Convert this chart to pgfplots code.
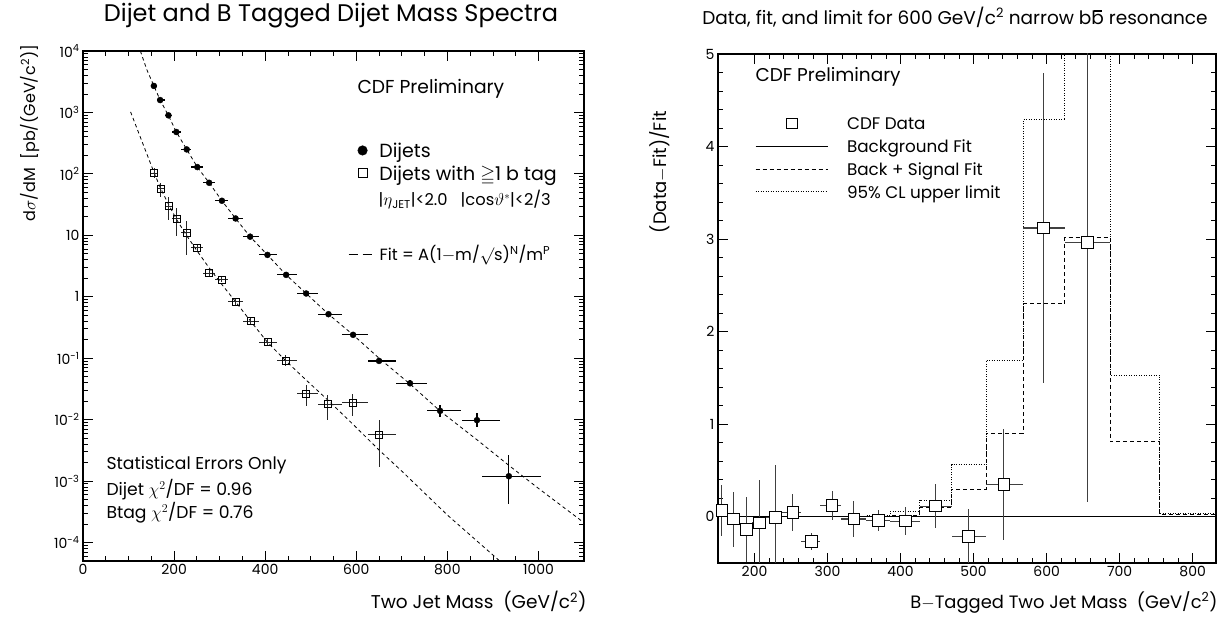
\documentclass[border=0pt]{standalone}
\usepackage{amsmath,amssymb}
\usepackage{fontspec}
\setmainfont{Poppins}
\usepackage{pgfplots}
\usepackage{pgfplotstable}
\pgfplotsset{compat=1.18}

% Dijets: x, x-error minus/plus, y, y-error minus/plus
\pgfplotstableread{
x xm xp y ym yp
155.6 5.6 6.4 2700 0 0
169.4 7.4 9.6 1590 0 0
187.6 8.6 8.4 897 0 0
205 9 11 480 0 0
227.7 11.7 10.3 250 0 0
251 13 13 129 0 0
277 13 13 71.6 0 0
305 15 14 36.5 0 0
335 16 17 18.8 0 0
367 15 19 9.5 0 0
405 19 21 4.8 0 0
446 20 24 2.27 0 0
490 20 27 1.13 0 0
539 22 29 0.52 0 0
593 25 32 0.24 0 0
650 25 37 0.0903 0.004 0.004
718 31 37 0.039 0.0039 0.0047
784 28 47 0.0139 0.0028 0.0035
865 33 50 0.0098 0.0022 0.0028
935 60 71 0.0012 0.00078 0.0015
}\dijet

% B-tagged dijets
\pgfplotstableread{
x xm xp y ym yp
156.7 6.7 5.3 102 17.4 21
170 8 9 58 16.6 13.8
188.4 9.4 7.6 29.9 12.2 11.5
206 10 10 18.8 9.2 8.6
227.7 11.7 10.3 11.1 6.4 6.3
251 13 13 6.35 0.9 1.0
277 13 13 2.4 0.25 0.29
305 15 14 1.91 0.2 0.23
335 16 17 0.83 0.09 0.1
368 16 18 0.40 0.04 0.05
405.5 19.5 20.5 0.182 0.019 0.022
445.5 19.5 24.5 0.092 0.016 0.019
490 20 27 0.0266 0.0101 0.0097
537 20 31 0.0178 0.008 0.0072
592 24 33 0.019 0.0076 0.0076
650 25 37 0.0057 0.004 0.004
}\btag

% Fit curves
\pgfplotstableread{
x y
126 10000
140 5000
155.6 2700
169.4 1590
187.6 890
205 480
227.7 250
251 129
277 71.6
305 36.5
335 18.8
367 9.5
405 4.8
446 2.27
490 1.13
539 0.52
593 0.24
650 0.1
718 0.038
784 0.0138
865 0.0047
935 0.0018
1000 0.00076
1100 0.00021
}\dijetfit

\pgfplotstableread{
x y
104.5 1020
130 330
156.7 102
170 59
188 31.6
206 17.8
228 9.8
251 5.5
277 2.95
305 1.58
335 0.83
368 0.40
405 0.182
445 0.091
490 0.044
537 0.021
592 0.0085
650 0.0032
700 0.00145
800 0.00028
915 0.00005
}\btagfit

% Right panel: (Data-Fit)/Fit
\pgfplotstableread{
x xm xp y ym yp
155.3 5.3 6.7 0.07 0.28 0.27
170.8 8.8 8.2 -0.025 0.30 0.29
188.6 8.6 7.4 -0.14 0.35 0.35
206.8 10.8 9.2 -0.068 0.47 0.47
228.8 12.8 9.2 -0.008 0.57 0.57
252.5 14.5 11.5 0.047 0.20 0.20
277.6 13.6 12.4 -0.267 0.09 0.09
306.3 16.3 12.7 0.122 0.16 0.155
335.9 16.9 16.1 -0.025 0.19 0.19
369.5 17.5 16.5 -0.04 0.11 0.11
407 21 19 -0.047 0.15 0.15
448 22 22 0.115 0.24 0.24
492.6 22.6 24.4 -0.216 0.30 0.30
541.5 24.5 26.5 0.346 0.60 0.605
596 28 29 3.12 1.67 1.68
655.7 30.7 31.3 2.965 2.81 2.81
}\ratio

\pgfplotsset{
  cdf/.style={
    scale only axis, anchor=south west,
    tick align=inside,
    major tick length=10pt, minor tick length=5pt,
    axis line style={line width=1.1pt},
    major tick style={black, line width=0.9pt},
    minor tick style={black, line width=0.8pt},
    tick label style={font=\fontsize{14}{16}\selectfont},
    /pgf/number format/assume math mode=true,
    /pgf/number format/1000 sep={},
    legend cell align=left,
  },
}

\begin{document}
\begin{tikzpicture}[x=1pt,y=1pt]
\path[use as bounding box] (0,0) rectangle (1228,617);

%================ LEFT PANEL =================
\begin{axis}[cdf,
  at={(83pt,56pt)}, width=501pt, height=510pt,
  xmin=0, xmax=1100,
  ymode=log, ymin=5e-5, ymax=1e4,
  xtick={0,200,...,1000}, minor x tick num=3,
  ytick={1e-4,1e-3,1e-2,1e-1,1,10,100,1000,1e4},
  yticklabels={10\textsuperscript{-4},10\textsuperscript{-3},10\textsuperscript{-2},10\textsuperscript{-1},1,10,10\textsuperscript{2},10\textsuperscript{3},10\textsuperscript{4}},
  minor ytick={6e-5,7e-5,8e-5,9e-5,
    2e-4,3e-4,4e-4,5e-4,6e-4,7e-4,8e-4,9e-4,
    2e-3,3e-3,4e-3,5e-3,6e-3,7e-3,8e-3,9e-3,
    2e-2,3e-2,4e-2,5e-2,6e-2,7e-2,8e-2,9e-2,
    2e-1,3e-1,4e-1,5e-1,6e-1,7e-1,8e-1,9e-1,
    2,3,4,5,6,7,8,9,20,30,40,50,60,70,80,90,
    200,300,400,500,600,700,800,900,2000,3000,4000,5000,6000,7000,8000,9000},
  legend image code/.code={\draw[mark repeat=2,mark phase=2,#1] plot coordinates {(0pt,0pt) (10pt,0pt) (20pt,0pt)};},
  legend style={at={(0.548,0.8265)}, anchor=north west, draw=none, fill=none,
    font=\fontsize{19}{23}\selectfont, row sep=1pt, inner sep=0pt,
    /tikz/every odd column/.append style={column sep=10pt}},
]
\addlegendimage{only marks, mark=*, mark size=4.8pt, black}
\addlegendentry{\strut Dijets}
\addlegendimage{only marks, mark=square, mark size=4.5pt, black, mark options={line width=0.8pt}}
\addlegendentry{\strut Dijets with $\geqq$1 b tag}

\addplot[black, line width=0.8pt, dash pattern=on 3.5pt off 3pt, forget plot] table[x=x,y=y] {\dijetfit};
\addplot[black, line width=0.8pt, dash pattern=on 3.5pt off 3pt, forget plot] table[x=x,y=y] {\btagfit};

\addplot[only marks, mark=*, mark size=3pt, black, forget plot,
  error bars/.cd, x dir=both, x explicit, y dir=both, y explicit,
  error mark=none, error bar style={line width=1.2pt, black}]
  table[x=x, y=y, x error minus=xm, x error plus=xp, y error minus=ym, y error plus=yp] {\dijet};

\addplot[only marks, mark=square, mark size=3.5pt, black, mark options={line width=0.8pt}, forget plot,
  error bars/.cd, x dir=both, x explicit, y dir=both, y explicit,
  error mark=none, error bar style={line width=1.1pt, black!85}]
  table[x=x, y=y, x error minus=xm, x error plus=xp, y error minus=ym, y error plus=yp] {\btag};
\end{axis}

%================ RIGHT PANEL =================
\begin{axis}[cdf,
  at={(718pt,54pt)}, width=498pt, height=509pt,
  xmin=150, xmax=832, ymin=-0.5, ymax=5,
  xtick={200,300,...,800}, minor x tick num=4,
  ytick={0,1,...,5}, minor y tick num=4,
  legend image code/.code={\draw[mark repeat=2,mark phase=2,#1] plot coordinates {(0pt,0pt) (36pt,0pt) (72pt,0pt)};},
  legend style={at={(0.074,0.883)}, anchor=north west, draw=none, fill=none,
    font=\fontsize{16.8}{20}\selectfont, row sep=3.3pt, inner sep=0pt,
    /tikz/every odd column/.append style={column sep=17pt}},
]
\addlegendimage{only marks, mark=square*, mark size=5.4pt, black, mark options={fill=white, line width=0.9pt}}
\addlegendentry{\strut CDF Data}
\addlegendimage{black, line width=1pt}
\addlegendentry{\strut Background Fit}
\addlegendimage{black, line width=0.9pt, dash pattern=on 4pt off 3pt}
\addlegendentry{\strut Back + Signal Fit}
\addlegendimage{black, line width=0.9pt, dash pattern=on 1pt off 1.5pt}
\addlegendentry{\strut 95\% CL upper limit}

\addplot[black, line width=1pt, forget plot] coordinates {(150,0) (832,0)};
\addplot[const plot, black, line width=0.9pt, dash pattern=on 1pt off 1.5pt, forget plot] coordinates {
 (150,0) (352,0.015) (386,0.057) (426,0.18) (470,0.562) (517,1.69) (568,4.29) (625,8) (687,1.53) (755,0.03) (832,0.03)};
\addplot[const plot, black, line width=0.9pt, dash pattern=on 4pt off 3pt, forget plot] coordinates {
 (150,0) (386,0.01) (426,0.095) (470,0.30) (517,0.905) (568,2.30) (625,3.02) (687,0.815) (755,0.02) (832,0.02)};

\addplot[only marks, mark=square*, mark size=5.8pt, black, mark options={fill=white, line width=0.9pt}, forget plot,
  error bars/.cd, x dir=both, x explicit, y dir=both, y explicit,
  error mark=none, error bar style={line width=1.1pt, black!75}]
  table[x=x, y=y, x error minus=xm, x error plus=xp, y error minus=ym, y error plus=yp] {\ratio};
\end{axis}

%================ TEXTS =================
\node[font=\fontsize{24}{28}\selectfont] at (331,601) {Dijet and B Tagged Dijet Mass Spectra};
\node[font=\fontsize{18.5}{22}\selectfont] at (955,600) {Data, fit, and limit for 600 GeV/c\textsuperscript{2} narrow b\ooalign{b\cr\hidewidth\raisebox{0.68em}{\rule{0.42em}{0.06em}}\hidewidth\cr} resonance};

\node[font=\fontsize{18.7}{22}\selectfont, anchor=west] at (354,528) {CDF Preliminary};
\node[font=\fontsize{16.3}{19}\selectfont, anchor=west] at (375,417) {|$\eta$\textsubscript{JET}|<2.0\ \ \ |cos$\vartheta^{*}$|<2/3};
\node[font=\fontsize{16.3}{20}\selectfont, anchor=west] at (345,362) {\rule[0.32em]{9pt}{1pt}\hspace{5pt}\rule[0.32em]{9pt}{1pt}\hspace{8pt}Fit = A(1$-$m/$\surd$s)\textsuperscript{N}/m\textsuperscript{P}};

\node[font=\fontsize{17.2}{20}\selectfont, anchor=west] at (103,152) {Statistical Errors Only};
\node[font=\fontsize{17.2}{20}\selectfont, anchor=west] at (103,127) {Dijet $\chi^2$/DF = 0.96};
\node[font=\fontsize{17.2}{20}\selectfont, anchor=west] at (103,104) {Btag $\chi^2$/DF = 0.76};

\node[font=\fontsize{18.5}{22}\selectfont, anchor=west] at (752,540) {CDF Preliminary};

\node[font=\fontsize{18.5}{22}\selectfont, anchor=east] at (590,15) {Two Jet Mass\ \ (GeV/c\textsuperscript{2})};
\node[font=\fontsize{17.9}{21}\selectfont, anchor=east] at (1221,15) {B$-$Tagged Two Jet Mass\ \ (GeV/c\textsuperscript{2})};

\node[font=\fontsize{16}{19}\selectfont, rotate=90] at (30,484) {d$\sigma$/dM\ \ [pb/(GeV/c\textsuperscript{2})]};
\node[font=\fontsize{18}{21}\selectfont, rotate=90] at (660,445) {(Data$-$Fit)/Fit};
\end{tikzpicture}
\end{document}
